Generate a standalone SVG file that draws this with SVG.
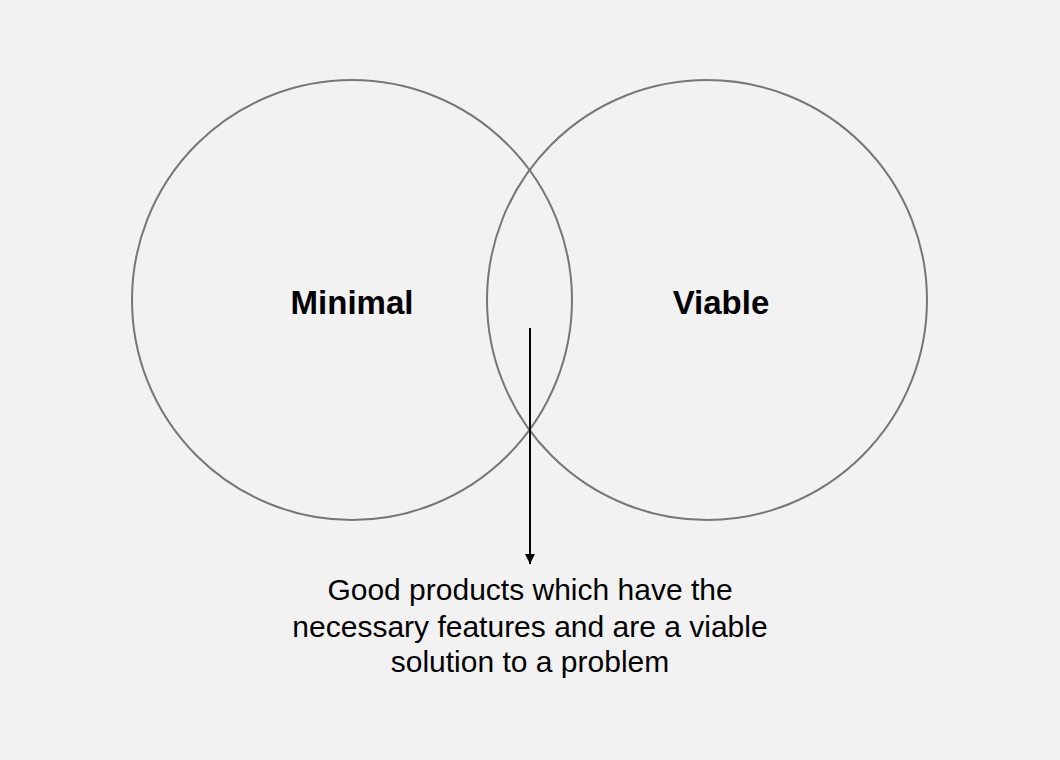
<svg xmlns="http://www.w3.org/2000/svg" width="1060" height="760" viewBox="0 0 1060 760">
<style>
.c{fill:none;stroke:#767676;stroke-width:2}
.lbl{font-family:"Liberation Sans",Arial,sans-serif;font-size:33px;font-weight:bold;fill:#000;text-anchor:middle}
.t{font-family:"Liberation Sans",Arial,sans-serif;font-size:30px;fill:#000;text-anchor:middle}
</style>
<defs>
<marker id="ah" viewBox="0 0 10 10" refX="10" refY="5" markerWidth="5" markerHeight="5" orient="auto" markerUnits="strokeWidth">
<path d="M0,0 L10,5 L0,10 z" fill="#000"/>
</marker>
</defs>
<rect width="1060" height="760" fill="#f2f2f2"/>
<g id="minimal">
<circle class="c" cx="352" cy="300" r="220"/>
<text class="lbl" x="352" y="314">Minimal</text>
</g>
<g id="viable">
<circle class="c" cx="707" cy="300" r="220"/>
<text class="lbl" x="721" y="314">Viable</text>
</g>
<g id="connectors">
<line x1="530" y1="328" x2="530" y2="564" stroke="#000" stroke-width="2" marker-end="url(#ah)"/>
</g>
<g id="description">
<text class="t" x="530" y="600">Good products which have the</text>
<text class="t" x="530" y="637">necessary features and are a viable</text>
<text class="t" x="530" y="672">solution to a problem</text>
</g>
</svg>
